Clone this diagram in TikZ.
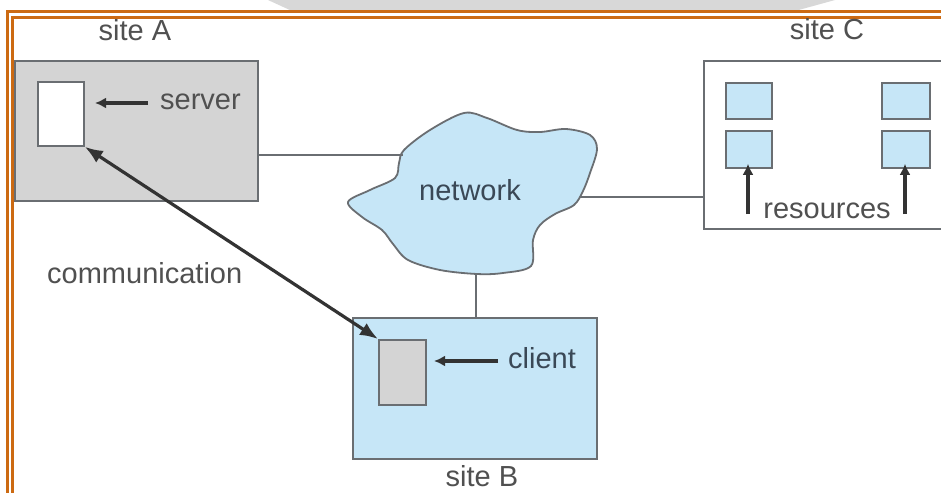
\documentclass[tikz,border=0pt]{standalone}
\usepackage{fontspec}
\setmainfont{Liberation Sans}
\usetikzlibrary{arrows.meta}
\definecolor{frameor}{HTML}{CC6A12}
\definecolor{boxline}{HTML}{6A6E72}
\definecolor{graybox}{HTML}{D4D4D4}
\definecolor{ltblue}{HTML}{C6E6F7}
\definecolor{txtgray}{HTML}{505050}
\definecolor{txtblue}{HTML}{3A4856}
\definecolor{wmgray}{HTML}{D8D8D8}
\tikzset{
  box/.style={draw=boxline, line width=1.8pt, inner sep=0pt, anchor=north west},
  lbl/.style={text=txtgray, font=\fontsize{29}{34}\selectfont, inner sep=0pt},
  link/.style={draw=boxline, line width=1.8pt},
  ptr/.style={draw=black!80, line width=3.2pt, -{Latex[length=11pt,width=11pt]}},
  comm/.style={draw=black!80, line width=3.2pt, {Latex[length=18pt,width=14pt]}-{Latex[length=18pt,width=14pt]}},
  frame/.style={draw=frameor, line width=3pt}
}
\begin{document}
\begin{tikzpicture}[x=1pt,y=-1pt]
\clip (0,0) rectangle (941,492);
\fill[white] (0,0) rectangle (941,492);
% watermark band
\fill[wmgray] (268,0) -- (835,0) -- (795,11) -- (292,11) -- cycle;
\fill[white,opacity=0.7] (840,0) -- (870,0) -- (845,11) -- (815,11) -- cycle;
% frame
\draw[frame] (7,495) -- (7,12) -- (945,12);
\draw[frame] (12.5,495) -- (12.5,17.5) -- (945,17.5);
% site A
\node[box, fill=graybox, minimum width=243pt, minimum height=140pt] (A) at (14,60) {};
\node[box, fill=white, minimum width=46pt, minimum height=64pt] (srv) at (37,81) {};
\node[lbl, anchor=base] (Alab) at (135,41) {site A};
\node[lbl, anchor=base west] (srvlbl) at (160,110) {server};
\coordinate (srvtail) at (148,103);
\coordinate (srvtip) at (95,103);
\draw[ptr] (srvtail) -- (srvtip);
% network cloud
\draw[draw=boxline, line width=1.8pt, fill=ltblue] plot[smooth cycle, tension=0.55] coordinates {
 (348,202) (370,190) (395,178) (399,163) (404,150) (430,130) (464,113) (487,118)
 (517,130) (540,132) (566,129) (590,135) (597,149) (590,173) (583,191) (574,205)
 (555,214) (540,225) (533,240) (531,266) (503,273) (477,274) (440,270) (408,260)
 (393,244) (382,230) (362,217)};
\node[lbl, text=txtblue, anchor=base] (net) at (470,200) {network};
\coordinate (netW) at (403,155);
\coordinate (netE) at (580,197);
\coordinate (netS) at (476,273);
% site B
\node[box, fill=ltblue, minimum width=244pt, minimum height=141pt] (B) at (352,317) {};
\node[box, fill=graybox, minimum width=47pt, minimum height=65pt] (cli) at (378,339) {};
\node[lbl, anchor=base] (Blab) at (482,486) {site B};
\node[lbl, text=txtblue, anchor=base west] (clilbl) at (508,368) {client};
\coordinate (clitail) at (498,361);
\coordinate (clitip) at (434,361);
\draw[ptr] (clitail) -- (clitip);
% site C
\node[box, fill=white, minimum width=250pt, minimum height=168pt] (C) at (703,60) {};
\node[lbl, anchor=base] (Clab) at (827,40) {site C};
\node[box, fill=ltblue, minimum width=46pt, minimum height=36pt] (r1a) at (725,82) {};
\node[box, fill=ltblue, minimum width=46pt, minimum height=37pt] (r1b) at (725,130) {};
\node[box, fill=ltblue, minimum width=48pt, minimum height=36pt] (r2a) at (881,82) {};
\node[box, fill=ltblue, minimum width=48pt, minimum height=37pt] (r2b) at (881,130) {};
\node[lbl, anchor=base] (res) at (827,218) {resources};
\coordinate (ra1) at (748,214);
\coordinate (ra2) at (905,214);
\draw[ptr] (ra1) -- ([yshift=5pt]ra1 |- r1b.south);
\draw[ptr] (ra2) -- ([yshift=5pt]ra2 |- r2b.south);
% connectors
\draw[link] (A.east |- netW) -- (netW);
\draw[link] (netE) -- (netE -| C.west);
\draw[link] (netS) -- (netS |- B.north);
% communication
\node[lbl, anchor=base west] (comm) at (47,283) {communication};
\draw[comm] (srv.south east) -- (cli.north west);
\end{tikzpicture}
\end{document}
